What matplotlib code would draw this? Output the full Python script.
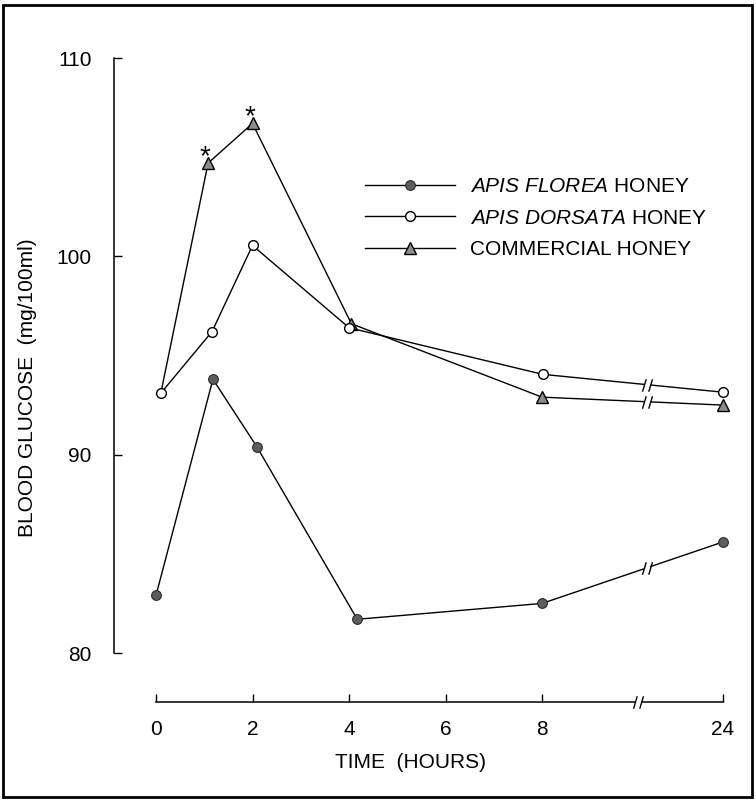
import numpy as np
import matplotlib
matplotlib.use("Agg")
import matplotlib.pyplot as plt
from matplotlib.path import Path
from matplotlib.lines import Line2D
from matplotlib.patches import Rectangle

plt.rcParams['font.family'] = ['Liberation Sans', 'DejaVu Sans']
plt.rcParams['mathtext.fontset'] = 'custom'
plt.rcParams['mathtext.rm'] = 'Liberation Sans'
plt.rcParams['mathtext.it'] = 'Liberation Sans:italic'

# 数据
florea_t = [0, 1.18, 2.09, 4.17, 8.0, 24]
florea_y = [82.9, 93.8, 90.4, 81.7, 82.5, 85.6]
dorsata_t = [0.1, 1.16, 2.0, 4.0, 8.06, 24]
dorsata_y = [93.1, 96.2, 100.55, 96.4, 94.05, 93.15]
comm_t = [0.1, 1.08, 2.0, 4.05, 8.0, 24]
comm_y = [93.1, 104.7, 106.7, 96.6, 92.9, 92.5]
star_idx = [1, 2]
xticks = [0, 2, 4, 6, 8, 24]
yticks = [80, 90, 100, 110]


# 8小时以后压缩的横轴
def fwd(t):
    t = np.asarray(t, dtype=float)
    return np.where(t <= 8, t, 8 + (t - 8) * 3.75 / 16)


def inv(x):
    x = np.asarray(x, dtype=float)
    return np.where(x <= 8, x, 8 + (x - 8) * 16 / 3.75)


W, H = 756, 802
FS = 15
fig = plt.figure(figsize=(W / 100, H / 100), dpi=100)
ax = fig.add_axes([114 / W, 1 - 702 / H, (740 - 114) / W, (702 - 58) / H])
ax.set_xscale('function', functions=(fwd, inv))
ax.set_xlim(-0.87, 25.5)
ax.set_ylim(77.53, 110)

lw = 1.0
ax.plot(comm_t, comm_y, color='black', lw=lw, marker='^', ms=9,
        mfc='#8c8c8c', mec='black', mew=1.0, markevery=[1, 2, 3, 4, 5], zorder=3)
ax.plot(dorsata_t, dorsata_y, color='black', lw=lw, marker='o', ms=7,
        mfc='white', mec='black', mew=1.0, zorder=4)
ax.plot(florea_t, florea_y, color='black', lw=lw, marker='o', ms=7,
        mfc='#5e5e5e', mec='#2a2a2a', mew=0.8, zorder=4)

# 显著性星号
for i in star_idx:
    ax.annotate('*', (comm_t[i], comm_y[i]), xytext=(-3, -1), textcoords='offset pixels',
                ha='center', va='baseline', fontsize=20)

# 断轴符号
slash = Path([(-1.6, -2), (-0.4, 2), (0.4, -2), (1.6, 2)],
             [Path.MOVETO, Path.LINETO, Path.MOVETO, Path.LINETO])
gap = Path([(-0.9, -2), (0.9, -2), (0.9, 2), (-0.9, 2), (-0.9, -2)])


def draw_break(x, y):
    ax.plot([x], [y], marker=gap, ms=9, mfc='white', mec='white', mew=0, zorder=5, clip_on=False)
    ax.plot([x], [y], marker=slash, ms=9, mec='black', mew=1.0, zorder=6, clip_on=False)


t_brk = 17.3
for ts, ys in [(florea_t, florea_y), (dorsata_t, dorsata_y), (comm_t, comm_y)]:
    yb = np.interp(fwd(t_brk), fwd(ts[-2:]), ys[-2:])
    draw_break(t_brk, yb)
draw_break(16.5, 77.53)

# 坐标轴
for s in ['top', 'right']:
    ax.spines[s].set_visible(False)
ax.spines['left'].set_bounds(80, 110)
ax.spines['bottom'].set_bounds(0, 24)
ax.spines['left'].set_linewidth(1.1)
ax.spines['bottom'].set_linewidth(1.1)
ax.set_xticks(xticks)
ax.set_xticklabels([str(v) for v in xticks])
ax.set_yticks(yticks)
ax.set_yticklabels([str(v) for v in yticks])
ax.xaxis.set_minor_locator(matplotlib.ticker.NullLocator())
ax.tick_params(axis='both', direction='in', length=6, width=1.0, labelsize=FS)
ax.tick_params(axis='y', pad=16)
ax.tick_params(axis='x', pad=13)

fig.text(411 / W, 1 - 763 / H, 'TIME  (HOURS)', ha='center', va='center', fontsize=FS)
fig.text(28 / W, 1 - 388 / H, 'BLOOD GLUCOSE  (mg/100ml)', ha='center', va='center',
         rotation=90, fontsize=FS)

# 图例
handles = [
    Line2D([], [], color='black', lw=lw, marker='o', ms=7, mfc='#5e5e5e', mec='#2a2a2a', mew=0.8),
    Line2D([], [], color='black', lw=lw, marker='o', ms=7, mfc='white', mec='black', mew=1.0),
    Line2D([], [], color='black', lw=lw, marker='^', ms=9, mfc='#8c8c8c', mec='black', mew=1.0),
]
labels = [r'$\it{APIS\ FLOREA}$ HONEY', r'$\it{APIS\ DORSATA}$ HONEY', 'COMMERCIAL HONEY']
ax.legend(handles, labels, loc='upper left', bbox_to_anchor=(365 / W, 1 - 177 / H),
          bbox_transform=fig.transFigure, frameon=False, fontsize=FS, handlelength=4.33,
          handletextpad=0.72, labelspacing=0.6, borderpad=0, borderaxespad=0, numpoints=1)

# 外框
fig.add_artist(Rectangle((3 / W, 5 / H), 749 / W, 792 / H, transform=fig.transFigure,
                         fill=False, lw=2, color='black'))

fig.savefig('out.png', dpi=100)
